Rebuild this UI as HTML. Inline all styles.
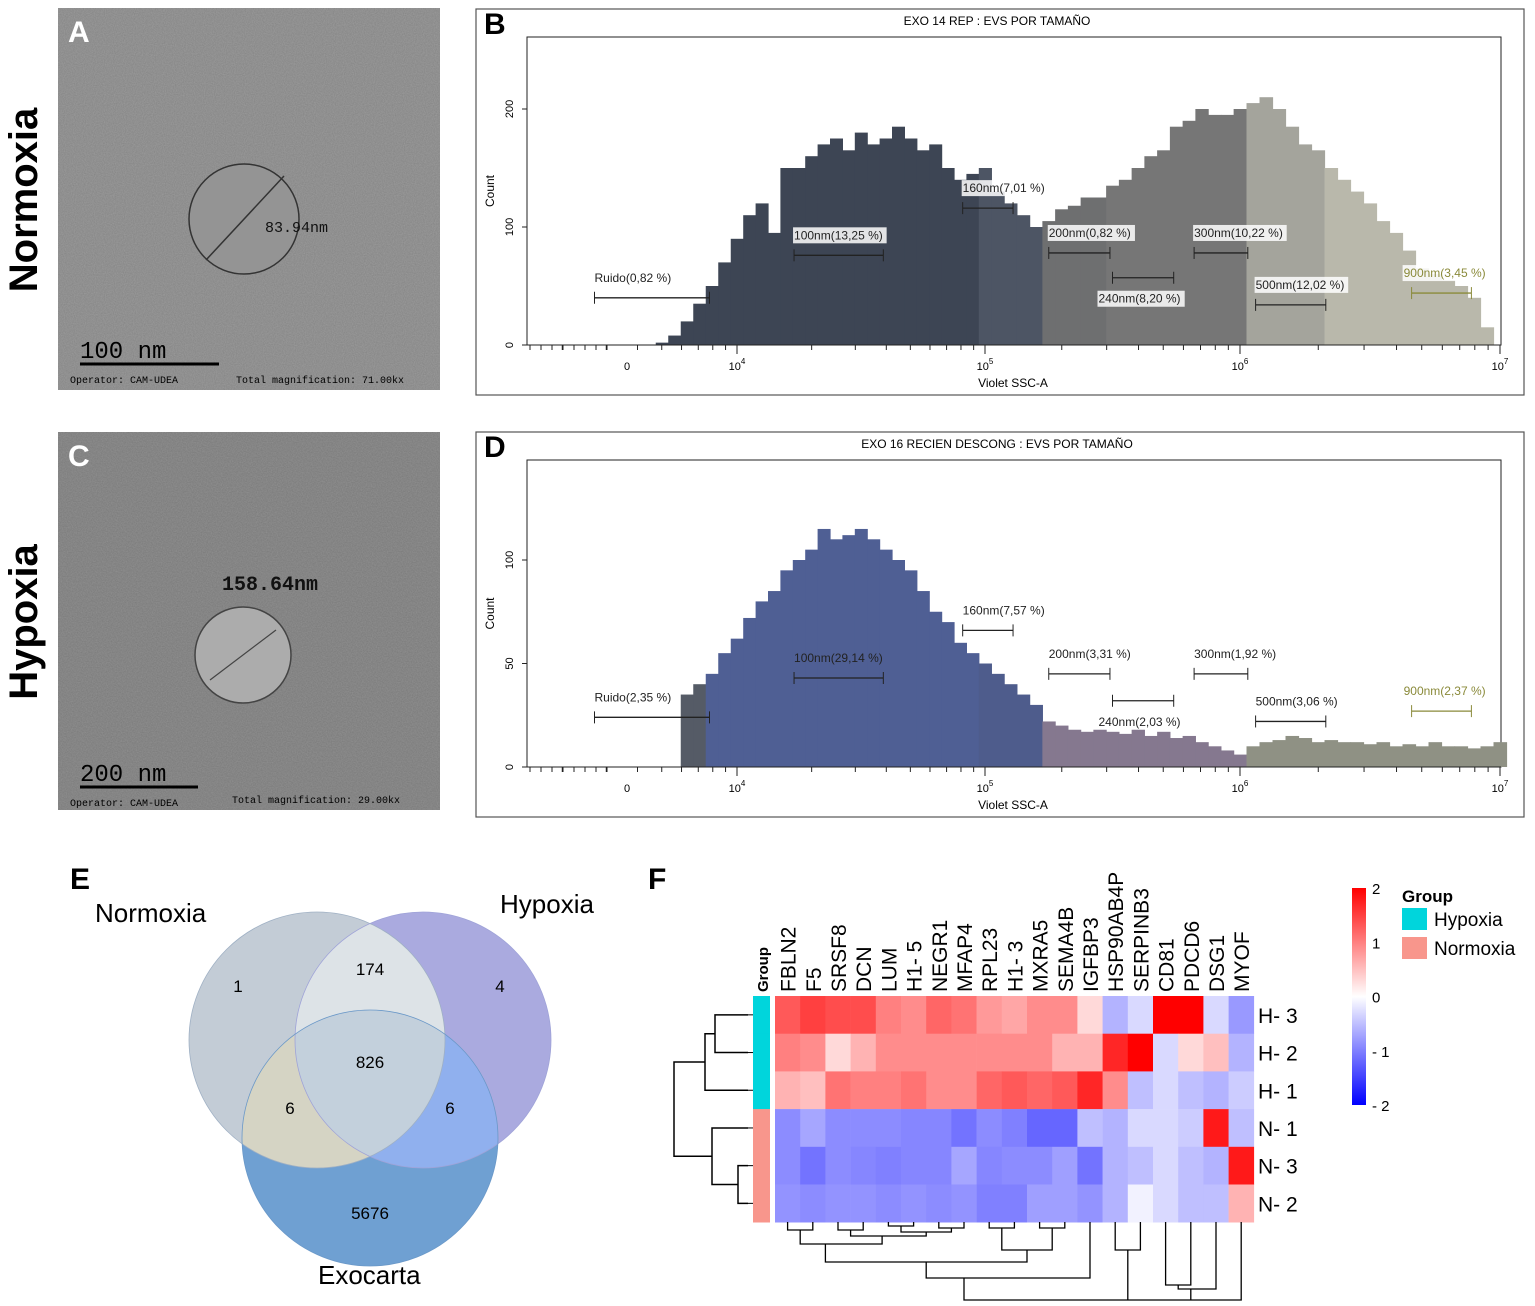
<!DOCTYPE html>
<html><head><meta charset="utf-8"><style>
body{margin:0;background:#fff;}
svg{display:block;font-family:"Liberation Sans",sans-serif;}
</style></head><body>
<svg id="fig" width="1535" height="1306" viewBox="0 0 1535 1306" xmlns="http://www.w3.org/2000/svg">
<defs>
<filter id="noiseA" x="0" y="0" width="100%" height="100%"><feTurbulence type="fractalNoise" baseFrequency="0.9" numOctaves="2" seed="3"/><feColorMatrix type="matrix" values="0 0 0 0 0.45  0 0 0 0 0.45  0 0 0 0 0.45  0.6 0 0 0 -0.1"/></filter>
<filter id="noiseC" x="0" y="0" width="100%" height="100%"><feTurbulence type="fractalNoise" baseFrequency="0.8" numOctaves="3" seed="7"/><feColorMatrix type="matrix" values="0 0 0 0 0.3  0 0 0 0 0.3  0 0 0 0 0.3  1.1 0 0 0 -0.25"/></filter>
<clipPath id="cN"><circle cx="317" cy="1040" r="128"/></clipPath>
<clipPath id="cH"><circle cx="423" cy="1040" r="128"/></clipPath>
<clipPath id="cE"><circle cx="370" cy="1138" r="128"/></clipPath>
<linearGradient id="cbar" x1="0" y1="0" x2="0" y2="1"><stop offset="0" stop-color="#f00"/><stop offset="0.5" stop-color="#fff"/><stop offset="1" stop-color="#00f"/></linearGradient>
</defs>

<!-- Panel A -->
<g>
<rect x="58" y="8" width="382" height="382" fill="#878787"/>
<rect x="58" y="8" width="382" height="382" filter="url(#noiseA)"/>
<circle cx="244" cy="219" r="55" fill="#949494" stroke="#333" stroke-width="1.5"/>
<line x1="206" y1="260" x2="284" y2="176" stroke="#333" stroke-width="1.5"/>
<text x="265" y="232" font-family="Liberation Mono" font-size="15" fill="#111">83.94nm</text>
<text x="68" y="42" font-size="30" font-weight="bold" fill="#fff">A</text>
<line x1="80" y1="364" x2="219" y2="364" stroke="#000" stroke-width="3"/>
<text x="80" y="358" font-family="Liberation Mono" font-size="24" fill="#000">100 nm</text>
<text x="70" y="383" font-family="Liberation Mono" font-size="10" fill="#000">Operator: CAM-UDEA</text>
<text x="236" y="383" font-family="Liberation Mono" font-size="10" fill="#000">Total magnification: 71.00kx</text>
</g>
<!-- Panel C -->
<g>
<rect x="58" y="432" width="382" height="378" fill="#7e7e7e"/>
<rect x="58" y="432" width="382" height="378" filter="url(#noiseC)"/>
<circle cx="243" cy="655" r="48" fill="#acacac" stroke="#444" stroke-width="1.5"/>
<line x1="210" y1="680" x2="276" y2="630" stroke="#444" stroke-width="1.2"/>
<text x="222" y="590" font-family="Liberation Mono" font-size="20" font-weight="bold" fill="#111">158.64nm</text>
<text x="68" y="466" font-size="30" font-weight="bold" fill="#fff">C</text>
<line x1="80" y1="787" x2="198" y2="787" stroke="#000" stroke-width="3"/>
<text x="80" y="781" font-family="Liberation Mono" font-size="24" fill="#000">200 nm</text>
<text x="70" y="806" font-family="Liberation Mono" font-size="10" fill="#000">Operator: CAM-UDEA</text>
<text x="232" y="803" font-family="Liberation Mono" font-size="10" fill="#000">Total magnification: 29.00kx</text>
</g>
<text transform="translate(37,200) rotate(-90)" text-anchor="middle" font-size="40" font-weight="bold">Normoxia</text>
<text transform="translate(37,622) rotate(-90)" text-anchor="middle" font-size="40" font-weight="bold">Hypoxia</text>

<g id="histB"></g>
<g id="histD"></g>

<!-- Venn -->
<g>
<text x="70" y="889" font-size="30" font-weight="bold">E</text>
<circle cx="317" cy="1040" r="128" fill="#c3ccd6"/>
<circle cx="423" cy="1040" r="128" fill="#aaaadf"/>
<circle cx="370" cy="1138" r="128" fill="#6fa0d2"/>
<g clip-path="url(#cN)"><circle cx="423" cy="1040" r="128" fill="#dde3e7"/><circle cx="370" cy="1138" r="128" fill="#d5d4c4"/></g>
<g clip-path="url(#cH)"><circle cx="370" cy="1138" r="128" fill="#90b0ee"/></g>
<g clip-path="url(#cN)"><g clip-path="url(#cH)"><circle cx="370" cy="1138" r="128" fill="#c3d0dc"/></g></g>
<circle cx="317" cy="1040" r="128" fill="none" stroke="#9fb0c4" stroke-width="0.8"/>
<circle cx="423" cy="1040" r="128" fill="none" stroke="#9fa3d8" stroke-width="0.8"/>
<circle cx="370" cy="1138" r="128" fill="none" stroke="#6a98c8" stroke-width="0.8"/>
<g font-size="17" text-anchor="middle">
<text x="238" y="992">1</text><text x="370" y="975">174</text><text x="500" y="992">4</text>
<text x="370" y="1068">826</text><text x="290" y="1114">6</text><text x="450" y="1114">6</text><text x="370" y="1219">5676</text>
</g>
<text x="95" y="922" font-size="26">Normoxia</text>
<text x="500" y="913" font-size="26">Hypoxia</text>
<text x="318" y="1284" font-size="26">Exocarta</text>
</g>

<g id="heat"></g>
</svg>
<script>
var NS='http://www.w3.org/2000/svg';
function mk(p,t,a,txt){var e=document.createElementNS(NS,t);for(var k in a)e.setAttribute(k,a[k]);if(txt!==undefined)e.textContent=txt;p.appendChild(e);return e;}

// ---- histogram data ----
var binStep=0.05;
var bStart=3.70;
var bCounts=[2,8,20,35,50,70,90,110,120,95,150,150,160,170,175,165,180,170,175,185,175,165,170,150,140,145,150,130,120,110,100,105,115,118,125,125,135,140,150,160,165,185,190,200,195,195,200,205,210,200,185,170,165,150,140,130,120,105,95,80,65,60,55,50,40,15];
var dStart=3.80;
var dCounts=[35,40,45,55,62,72,80,85,95,100,105,115,110,112,115,110,105,100,95,85,75,70,60,55,50,45,40,35,30,22,20,18,17,18,17,16,18,15,17,14,15,12,10,8,6,10,12,13,15,14,12,13,12,12,11,12,10,11,10,12,10,10,9,10,12];
var bYTicks=[0,100,200];
var dYTicks=[0,50,100];
var xTickLabels=['0','10','10','10','10'];
var xTickExp=['','4','5','6','7'];
var xTickVals=[null,4,5,6,7];
var bGates=[["Ruido(0,82 %)",3.43,3.89,40],["100nm(13,25 %)",4.23,4.59,76],["160nm(7,01 %)",4.91,5.11,116],["200nm(0,82 %)",5.25,5.49,78],["240nm(8,20 %)",5.5,5.74,57],["300nm(10,22 %)",5.82,6.03,78],["500nm(12,02 %)",6.06,6.33,34],["900nm(3,45 %)",6.66,6.89,44]];
var dGates=[["Ruido(2,35 %)",3.43,3.89,24],["100nm(29,14 %)",4.23,4.59,43],["160nm(7,57 %)",4.91,5.11,66],["200nm(3,31 %)",5.25,5.49,45],["240nm(2,03 %)",5.5,5.74,32],["300nm(1,92 %)",5.82,6.03,45],["500nm(3,06 %)",6.06,6.33,22],["900nm(2,37 %)",6.66,6.89,27]];

function xs(v){ // log10 value -> px
  if(v<4) return 737+(v-4)*250;
  if(v<5) return 737+(v-4)*248;
  if(v<6) return 985+(v-5)*255;
  return 1240+(v-6)*260;
}
function drawHist(g,o){
  var top=o.top,base=o.base,ppc=o.ppc;
  function ys(c){return base-c*ppc;}
  mk(g,'rect',{x:476,y:top-28,width:1048,height:base-top+78,fill:'#fff',stroke:'#555','stroke-width':1.2});
  mk(g,'text',{x:484,y:top-3,'font-size':30,'font-weight':'bold'},o.letter);
  mk(g,'text',{x:997,y:top-12,'font-size':12,'text-anchor':'middle'},o.title);
  mk(g,'rect',{x:527,y:top,width:974,height:base-top,fill:'none',stroke:'#222','stroke-width':1});
  for(var i=0;i<o.counts.length;i++){
    var v=o.start+i*binStep, x0=xs(v-binStep/2), x1=xs(v+binStep/2);
    var px=(x0+x1)/2, col=o.color(px);
    var r=mk(g,'rect',{x:x0,y:ys(o.counts[i]),width:x1-x0+0.6,height:o.counts[i]*ppc,fill:col});
    
    
  }
  mk(g,'line',{x1:527,y1:base,x2:1501,y2:base,stroke:'#222'});
  o.yticks.forEach(function(t){
    mk(g,'line',{x1:522,y1:ys(t),x2:527,y2:ys(t),stroke:'#222'});
    mk(g,'text',{transform:'translate(513,'+ys(t)+') rotate(-90)','font-size':11,'text-anchor':'middle'},String(t));
  });
  mk(g,'text',{transform:'translate(494,'+((top+base)/2)+') rotate(-90)','font-size':12,'text-anchor':'middle'},'Count');
  for(var d=3;d<7;d++)for(var m=1;m<10;m++){var lv=d+Math.log10(m);if(lv<3.3)continue;var x=xs(lv);mk(g,'line',{x1:x,y1:base,x2:x,y2:base+(m==1?9:5),stroke:'#222'});}
  for(var k=0;k<8;k++){var x=530+k*11;mk(g,'line',{x1:x,y1:base,x2:x,y2:base+5,stroke:'#222'});}
  mk(g,'line',{x1:1500,y1:base,x2:1500,y2:base+9,stroke:'#222'});
  for(var k=0;k<xTickLabels.length;k++){
    var x=xTickVals[k]===null?627:xs(xTickVals[k]);
    var t=mk(g,'text',{x:x,y:base+25,'font-size':11,'text-anchor':'middle'},xTickLabels[k]);
    if(xTickExp[k]){mk(t,'tspan',{dy:-6,'font-size':8},xTickExp[k]);}
  }
  mk(g,'text',{x:1013,y:base+42,'font-size':12,'text-anchor':'middle'},'Violet SSC-A');
  o.gates.forEach(function(gt,i){
    var x0=xs(gt[1]),x1=xs(gt[2]),y=ys(gt[3]);
    var col=i==7?'#8a8a3a':'#222';
    var gg=mk(g,'g',{});
    
    
    mk(gg,'line',{x1:x0,y1:y,x2:x1,y2:y,stroke:col,'stroke-width':1.3});
    mk(gg,'line',{x1:x0,y1:y-6,x2:x0,y2:y+6,stroke:col});
    mk(gg,'line',{x1:x1,y1:y-6,x2:x1,y2:y+6,stroke:col});
    var below=(i==4), lx=(i==4?x0-14:(i==7?x0-8:x0)), ly=below?y+25:y-16;
    if(o.boxed&&i>0){mk(gg,'rect',{x:lx-1,y:ly-12,width:gt[0].length*6.4+4,height:16,fill:'#fff',opacity:0.85});}
    mk(gg,'text',{x:lx,y:ly,'font-size':12,fill:col},gt[0]);
  });
}
drawHist(document.getElementById('histB'),{top:37,base:345,ppc:1.18,start:bStart,counts:bCounts,yticks:bYTicks,gates:bGates,letter:'B',title:'EXO 14 REP : EVS POR TAMAÑO',boxed:true,
 color:function(x){return x<985?'#3d4554':x<1045?'#4d5564':x<1110?'#6e6f70':x<1248?'#767676':x<1325?'#a4a49c':'#b9b8ab';}});
drawHist(document.getElementById('histD'),{top:460,base:767,ppc:2.07,start:dStart,counts:dCounts,yticks:dYTicks,gates:dGates,letter:'D',title:'EXO 16 RECIEN DESCONG : EVS POR TAMAÑO',boxed:false,
 color:function(x){return x<700?'#555b66':x<985?'#4f5f94':x<1040?'#4e5c8c':x<1250?'#85788f':'#8f9184';}});

// ---- heatmap ----
var genes=['FBLN2','F5','SRSF8','DCN','LUM','H1- 5','NEGR1','MFAP4','RPL23','H1- 3','MXRA5','SEMA4B','IGFBP3','HSP90AB4P','SERPINB3','CD81','PDCD6','DSG1','MYOF'];
var samples=['H- 3','H- 2','H- 1','N- 1','N- 3','N- 2'];
var groups=['Hypoxia','Hypoxia','Hypoxia','Normoxia','Normoxia','Normoxia'];
var rowH3=[1.3,1.5,1.4,1.4,1.0,0.9,1.2,1.1,0.8,0.7,0.9,0.9,0.3,-0.6,-0.3,2,2,-0.3,-0.8];
var rowH2=[1.0,0.9,0.3,0.6,0.9,0.9,0.9,0.9,0.9,0.9,0.9,0.6,0.6,1.7,2,-0.3,0.3,0.5,-0.6];
var rowH1=[0.6,0.5,1.1,1.0,1.0,1.1,0.9,0.9,1.2,1.3,1.2,1.3,1.7,0.9,-0.5,-0.3,-0.5,-0.6,-0.4];
var rowN1=[-0.9,-0.7,-0.9,-0.9,-0.9,-0.95,-0.95,-1.1,-0.9,-1.0,-1.2,-1.2,-0.5,-0.6,-0.3,-0.3,-0.4,1.8,-0.5];
var rowN3=[-0.9,-1.1,-0.9,-0.95,-1.0,-0.95,-0.95,-0.7,-0.95,-0.9,-0.9,-0.75,-1.1,-0.6,-0.5,-0.3,-0.5,-0.6,1.8];
var rowN2=[-0.85,-0.9,-0.85,-0.85,-0.9,-0.85,-0.9,-0.85,-1.0,-1.0,-0.75,-0.75,-0.85,-0.6,-0.1,-0.3,-0.5,-0.5,0.6];
var rows=[rowH3,rowH2,rowH1,rowN1,rowN3,rowN2];
var scaleTicks=[2,1,0,-1,-2];
(function(){
  var g=document.getElementById('heat');
  var X0=775,Y0=996,CW=25.2,RH=37.7;
  function cx(i){return X0+i*CW;} function ry(j){return Y0+j*RH;}
  function col(v){v=Math.max(-2,Math.min(2,v));var t=Math.abs(v)/2,c=Math.round(255*(1-t));return v>=0?'rgb(255,'+c+','+c+')':'rgb('+c+','+c+',255)';}
  mk(g,'text',{x:648,y:889,'font-size':30,'font-weight':'bold'},'F');
  rows.forEach(function(r,j){
    r.forEach(function(v,i){
      var e=mk(g,'rect',{x:cx(i),y:ry(j),width:CW+0.3,height:RH+0.3,fill:col(v)});
      
      
    });
    var gb=mk(g,'rect',{x:753,y:ry(j),width:17,height:RH+0.3,fill:groups[j]=='Hypoxia'?'#00d5dc':'#f8968c'});
    
    
    mk(g,'line',{x1:748,y1:ry(j)+RH/2,x2:753,y2:ry(j)+RH/2,stroke:'#000'});
    mk(g,'text',{x:1258,y:ry(j)+RH/2+8,'font-size':21},samples[j]);
  });
  genes.forEach(function(n,i){
    mk(g,'text',{transform:'translate('+(cx(i)+CW/2+8)+',992) rotate(-90)','font-size':21},n);
  });
  mk(g,'text',{transform:'translate(768,992) rotate(-90)','font-size':15,'font-weight':'bold'},'Group');
  var rc=function(j){return ry(j)+RH/2;};
  var p='M748,'+rc(0)+'H715V'+rc(1)+'H748 M748,'+rc(2)+'H705V'+((rc(0)+rc(1))/2)+'H715 M705,'+((rc(0)+rc(1)+rc(2)*2)/4)+'H674V'+((rc(4)+rc(5)+rc(3)*2)/4)+'H712 M748,'+rc(4)+'H738V'+rc(5)+'H748 M748,'+rc(3)+'H712V'+((rc(4)+rc(5))/2)+'H738';
  mk(g,'path',{d:p,fill:'none',stroke:'#000','stroke-width':1.5});
  var c=function(i){return cx(i)+CW/2;};
  var d='M'+c(0)+',1222V1230H'+c(1)+'V1222 M'+c(2)+',1222V1230H'+c(3)+'V1222 M'+c(4)+',1222V1226H'+c(5)+'V1222 M'+c(6)+',1222V1228H'+c(7)+'V1222 M'+c(8)+',1222V1228H'+c(9)+'V1222 M'+c(10)+',1222V1228H'+c(11)+'V1222'+
   ' M'+((c(4)+c(5))/2)+',1226V1232H'+((c(6)+c(7))/2)+'V1228 M'+((c(2)+c(3))/2)+',1230V1236H'+((c(4)+c(6)+c(5)+c(7))/4)+'V1232 M'+((c(0)+c(1))/2)+',1230V1244H'+((c(2)+c(3)+c(4)+c(6))/4)+'V1236'+
   ' M'+((c(8)+c(9))/2)+',1228V1250H'+((c(10)+c(11))/2)+'V1228 M'+((c(0)+c(3))/2)+',1244V1262H'+((c(8)+c(11))/2)+'V1250'+
   ' M'+c(12)+',1222V1278H'+((c(0)+c(11))/2)+'V1262 M'+c(13)+',1222V1250H'+c(14)+'V1222 M'+c(15)+',1222V1285H'+c(16)+'V1222 M'+c(17)+',1222V1289H'+((c(15)+c(16))/2)+'V1285 M'+c(18)+',1222V1300H'+((c(15)+c(17))/2)+'V1289'+
   ' M'+((c(13)+c(14))/2)+',1250V1300H'+((c(12)+c(2))/2)+'V1278 M'+((c(13)+c(14))/2)+',1300H'+((c(15)+c(18))/2);
  mk(g,'path',{d:d,fill:'none',stroke:'#000','stroke-width':1.3});
  var cb=mk(g,'rect',{x:1352,y:888,width:14,height:217,fill:'url(#cbar)'});
  
  
  scaleTicks.forEach(function(t){var y=996.5-t*54.25;mk(g,'text',{x:1372,y:y+6,'font-size':15},t<0?'- '+(-t):String(t));});
  mk(g,'text',{x:1402,y:902,'font-size':17,'font-weight':'bold'},'Group');
  mk(g,'rect',{x:1402,y:908,width:25,height:22,fill:'#00d5dc'});
  mk(g,'text',{x:1434,y:926,'font-size':19},'Hypoxia');
  mk(g,'rect',{x:1402,y:937,width:25,height:22,fill:'#f8968c'});
  mk(g,'text',{x:1434,y:955,'font-size':19},'Normoxia');
})();
</script>
</body></html>
